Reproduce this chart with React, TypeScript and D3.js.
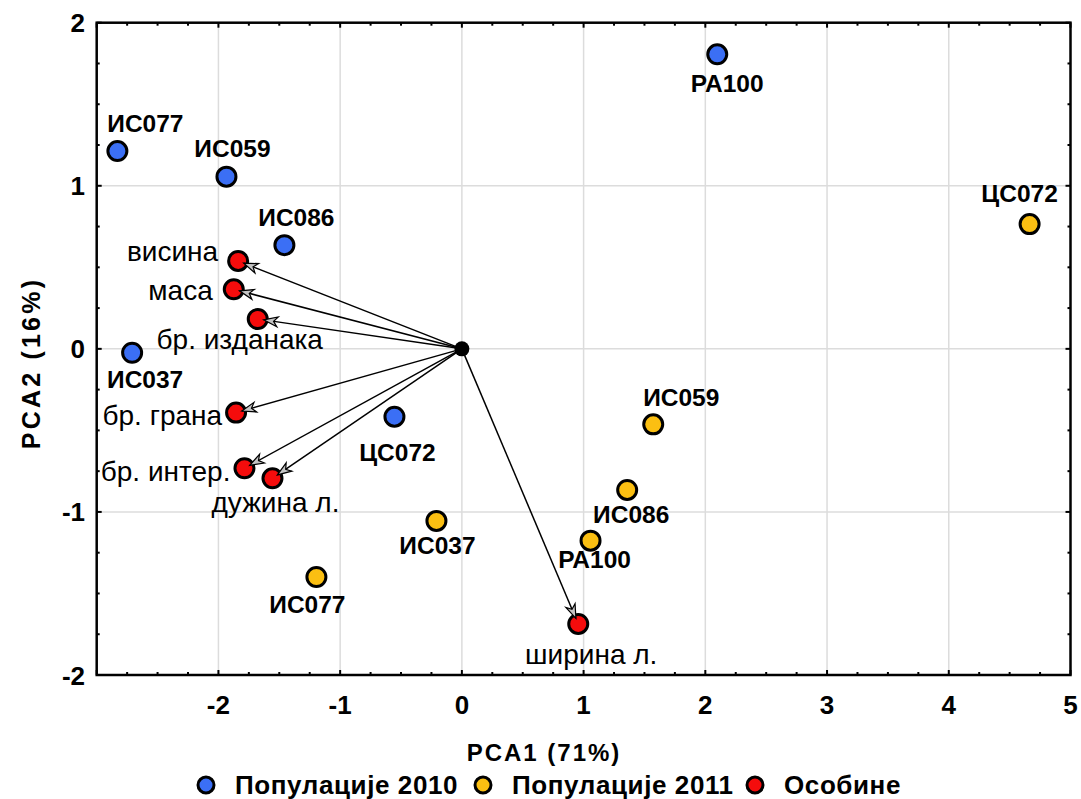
import React from "react";
import * as d3 from "d3";

// population scores, 2010
const pop2010Names = ["ИС077", "ИС059", "ИС086", "ИС037", "ЦС072", "РА100"];
const pop2010X = [-2.83, -1.934, -1.458, -2.709, -0.554, 2.098];
const pop2010Y = [1.213, 1.056, 0.636, -0.024, -0.416, 1.806];

// population scores, 2011
const pop2011Names = ["ЦС072", "ИС059", "ИС086", "РА100", "ИС037", "ИС077"];
const pop2011X = [4.664, 1.572, 1.358, 1.057, -0.209, -1.195];
const pop2011Y = [0.765, -0.463, -0.865, -1.176, -1.055, -1.399];

// trait loadings
const traitNames = ["висина", "маса", "бр. изданака", "бр. грана", "бр. интер.", "дужина л.", "ширина л."];
const traitX = [-1.838, -1.874, -1.677, -1.855, -1.786, -1.556, 0.956];
const traitY = [0.539, 0.365, 0.183, -0.391, -0.732, -0.794, -1.687];

const xTicks = [-2, -1, 0, 1, 2, 3, 4, 5];
const yTicks = [-2, -1, 0, 1, 2];
const legendLabels = ["Популације 2010", "Популације 2011", "Особине"];

// label placement (px offsets from the point, anchor)
const pop2010Off: [number, number][] = [[28, -19], [6, -20], [12, -19], [13, 35], [3, 44], [10, 38]];
const pop2011Off: [number, number][] = [[-10, -22], [28, -18], [4, 33], [4, 27], [1, 33], [-9, 36]];
const traitOff: [number, number, string][] = [
  [-20, 0, "end"],
  [-21, 11, "end"],
  [-18, 30, "middle"],
  [-14, 12, "end"],
  [-14, 13, "end"],
  [3, 34, "middle"],
  [13, 40, "middle"],
];

const BLUE = "#3b6ff5";
const YELLOW = "#fbbf12";
const RED = "#f50c0c";
const FONT = "'Liberation Sans', Arial, Helvetica, sans-serif";

export default function App() {
  const width = 1081;
  const height = 799;
  const x = d3.scaleLinear().domain([-3, 5]).range([96.7, 1070.5]);
  const y = d3.scaleLinear().domain([-2, 2]).range([675, 22.7]);
  const [x0, x1] = x.range();
  const [y0, y1] = y.range();

  const minorX = d3.range(-3, 5.001, 0.25);
  const minorY = d3.range(-2, 2.001, 0.25);
  const isMajor = (v: number) => Math.abs(v - Math.round(v)) < 1e-6;

  const r = 9.5;

  const arrow = (tx: number, ty: number, i: number) => {
    const ox = x(0);
    const oy = y(0);
    const px = x(tx);
    const py = y(ty);
    const len = Math.hypot(px - ox, py - oy);
    const ux = (px - ox) / len;
    const uy = (py - oy) / len;
    const tipX = px - ux * 6;
    const tipY = py - uy * 6;
    const bx = tipX - ux * 14;
    const by = tipY - uy * 14;
    const nx = -uy;
    const ny = ux;
    const head = d3.path();
    head.moveTo(tipX, tipY);
    head.lineTo(bx + nx * 5, by + ny * 5);
    head.lineTo(bx + ux * 4, by + uy * 4);
    head.lineTo(bx - nx * 5, by - ny * 5);
    head.closePath();
    return (
      <g key={"a" + i}>
        <line x1={ox} y1={oy} x2={tipX} y2={tipY} stroke="#000" strokeWidth={1.5} />
        <path d={head.toString()} fill="#c4c4c4" stroke="#000" strokeWidth={1.2} strokeLinejoin="miter" />
      </g>
    );
  };

  return (
    <div>
      <style>{"body{margin:0}"}</style>
      <svg width={width} height={height} style={{ display: "block", fontFamily: FONT }}>
        <rect width={width} height={height} fill="#fff" />
        {/* grid */}
        {xTicks.filter((t) => t > -3 && t < 5).map((t) => (
          <line key={"gx" + t} x1={x(t)} x2={x(t)} y1={y1} y2={y0} stroke="#dcdcdc" strokeWidth={1.5} />
        ))}
        {yTicks.filter((t) => t > -2 && t < 2).map((t) => (
          <line key={"gy" + t} x1={x0} x2={x1} y1={y(t)} y2={y(t)} stroke="#dcdcdc" strokeWidth={1.5} />
        ))}
        {/* ticks on all four sides, pointing inward */}
        {minorX.map((t) => {
          const l = isMajor(t) ? 5 : 3;
          return (
            <g key={"tx" + t}>
              <line x1={x(t)} x2={x(t)} y1={y0} y2={y0 - l} stroke="#000" strokeWidth={2} />
              <line x1={x(t)} x2={x(t)} y1={y1} y2={y1 + l} stroke="#000" strokeWidth={2} />
            </g>
          );
        })}
        {minorY.map((t) => {
          const l = isMajor(t) ? 5 : 3;
          return (
            <g key={"ty" + t}>
              <line x1={x0} x2={x0 + l} y1={y(t)} y2={y(t)} stroke="#000" strokeWidth={2} />
              <line x1={x1} x2={x1 - l} y1={y(t)} y2={y(t)} stroke="#000" strokeWidth={2} />
            </g>
          );
        })}
        <rect x={x0} y={y1} width={x1 - x0} height={y0 - y1} fill="none" stroke="#000" strokeWidth={2.5} />
        {/* tick labels */}
        {xTicks.map((t) => (
          <text key={"lx" + t} x={x(t)} y={714} textAnchor="middle" fontSize={26} fontWeight="bold">
            {t < 0 ? "-" + Math.abs(t) : t}
          </text>
        ))}
        {yTicks.map((t) => (
          <text key={"ly" + t} x={85} y={y(t) + 9.5} textAnchor="end" fontSize={26} fontWeight="bold">
            {t < 0 ? "-" + Math.abs(t) : t}
          </text>
        ))}
        {/* points */}
        {pop2010X.map((v, i) => (
          <circle key={"b" + i} cx={x(v)} cy={y(pop2010Y[i])} r={r} fill={BLUE} stroke="#000" strokeWidth={3} />
        ))}
        {pop2011X.map((v, i) => (
          <circle key={"y" + i} cx={x(v)} cy={y(pop2011Y[i])} r={r} fill={YELLOW} stroke="#000" strokeWidth={3} />
        ))}
        {traitX.map((v, i) => (
          <circle key={"r" + i} cx={x(v)} cy={y(traitY[i])} r={r} fill={RED} stroke="#000" strokeWidth={3} />
        ))}
        {traitX.map((v, i) => arrow(v, traitY[i], i))}
        <circle cx={x(0)} cy={y(0)} r={7.5} fill="#000" />
        {/* labels */}
        {pop2010Names.map((n, i) => (
          <text key={"bl" + i} x={x(pop2010X[i]) + pop2010Off[i][0]} y={y(pop2010Y[i]) + pop2010Off[i][1]}
            textAnchor="middle" fontSize={24.5} fontWeight="bold">{n}</text>
        ))}
        {pop2011Names.map((n, i) => (
          <text key={"yl" + i} x={x(pop2011X[i]) + pop2011Off[i][0]} y={y(pop2011Y[i]) + pop2011Off[i][1]}
            textAnchor="middle" fontSize={24.5} fontWeight="bold">{n}</text>
        ))}
        {traitNames.map((n, i) => (
          <text key={"rl" + i} x={x(traitX[i]) + traitOff[i][0]} y={y(traitY[i]) + traitOff[i][1]}
            textAnchor={traitOff[i][2]} fontSize={28}>{n}</text>
        ))}
        {/* axis titles */}
        <text x={544} y={761} textAnchor="middle" fontSize={24} fontWeight="bold" letterSpacing={2}>PCA1 (71%)</text>
        <text transform="translate(40,363) rotate(-90)" textAnchor="middle" fontSize={25} fontWeight="bold" letterSpacing={3.2}>PCA2 (16%)</text>
        {/* legend */}
        {legendLabels.map((l, i) => {
          const cx = [206, 483, 755][i];
          const c = [BLUE, YELLOW, RED][i];
          return (
            <g key={"lg" + i}>
              <circle cx={cx} cy={785} r={8} fill={c} stroke="#000" strokeWidth={3} />
              <text x={cx + 29} y={794} fontSize={26} fontWeight="bold" letterSpacing={0.6}>{l}</text>
            </g>
          );
        })}
      </svg>
    </div>
  );
}
